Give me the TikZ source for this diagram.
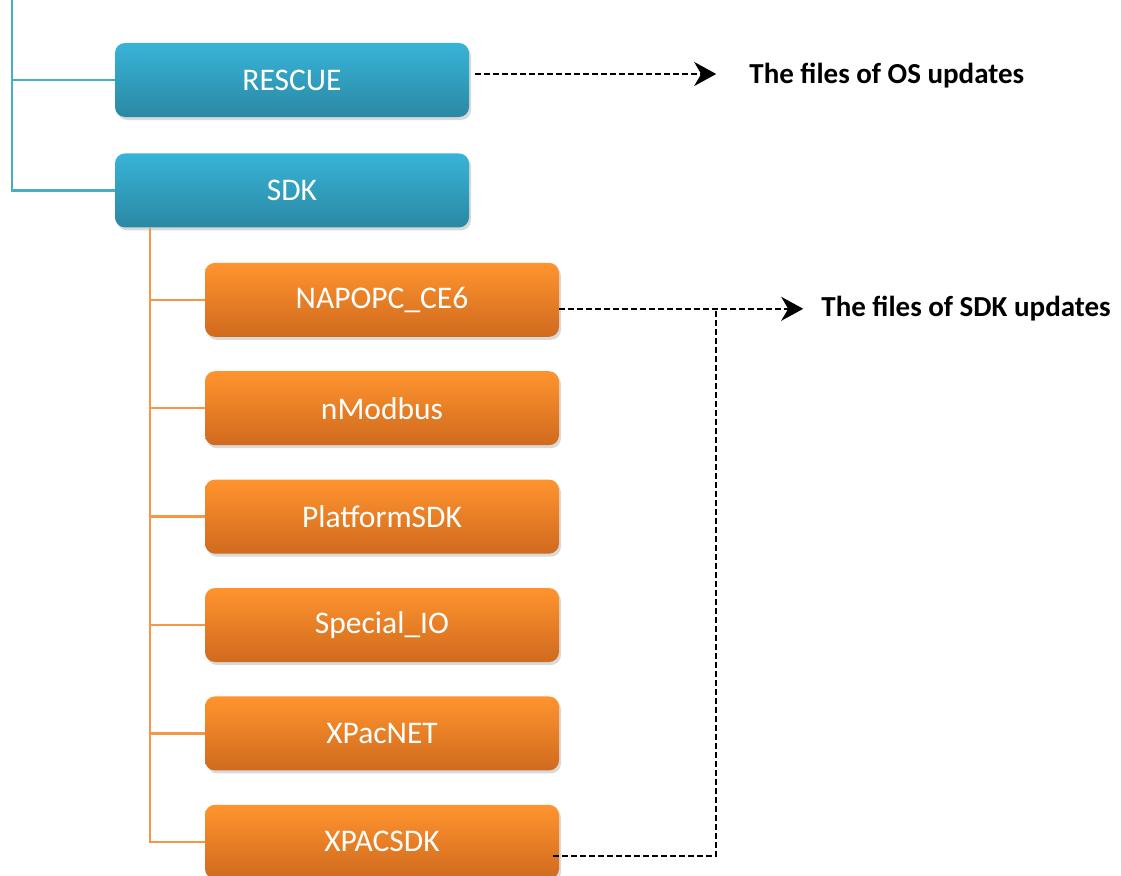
\documentclass[tikz,border=0pt]{standalone}
\usepackage{fontspec}
\setmainfont{Carlito}
\usepackage{xcolor}
\usepackage{tikz}
\usetikzlibrary{arrows.meta, positioning, calc, shadows}
\definecolor{bluetop}{HTML}{38B4D8}
\definecolor{bluebottom}{HTML}{2A88A3}
\definecolor{blueline}{HTML}{4BACC6}
\definecolor{orangetop}{HTML}{FF942E}
\definecolor{orangebottom}{HTML}{D06A1E}
\definecolor{orangeline}{HTML}{F79646}

\begin{document}
\begin{tikzpicture}[
    x=1pt, y=-1pt,
    node distance=34pt,
    folder/.style={rectangle, rounded corners=10pt, minimum width=354pt,
                minimum height=74pt, top color=#1top, bottom color=#1bottom,
                draw=none, text=white, font=\fontsize{31.5}{36}\selectfont,
                drop shadow={opacity=0.3, shadow xshift=2pt, shadow yshift=-3pt}},
    tree/.style={line width=2.4pt, color=#1},
    dasharrow/.style={-{Stealth[length=22pt, width=24pt, inset=7pt]}, line width=2.4pt, dash pattern=on 6pt off 3pt},
    dashline/.style={line width=2.4pt, dash pattern=on 6pt off 3pt},
    note/.style={font=\fontsize{29}{34}\selectfont\bfseries, inner sep=0pt, anchor=west}
]
\useasboundingbox (0,0) rectangle (1121,875);

% Top level folders
\node[folder=blue] (rescue) at (292,80) {RESCUE};
\node[folder=blue, below=36pt of rescue] (sdk) {SDK};

% SDK sub folders
\node[folder=orange, anchor=north west] (napopc) at ([xshift=90pt, yshift=-35pt]sdk.south west) {NAPOPC\_CE6};
\node[folder=orange, below=of napopc] (nmodbus) {nModbus};
\node[folder=orange, below=of nmodbus] (platform) {PlatformSDK};
\node[folder=orange, below=of platform] (specialio) {Special\_IO};
\node[folder=orange, below=of specialio] (xpacnet) {XPacNET};
\node[folder=orange, below=of xpacnet] (xpacsdk) {XPACSDK};

% Notes
\node[note, right=280pt of rescue, yshift=4pt] (osnote) {The files of OS updates};
\node[note, right=262pt of napopc, yshift=-9pt] (sdknote) {The files of SDK updates};

% Tree lines
\coordinate (root) at (12,0);
\coordinate (sdkroot) at ([xshift=35pt]sdk.south west);
\draw[tree=blueline] (root) |- (sdk.west);
\draw[tree=blueline] (root |- rescue.west) -- (rescue.west);

\draw[tree=orangeline] (sdkroot) |- (xpacsdk.west);
\draw[tree=orangeline] (sdkroot |- napopc.west) -- (napopc.west);
\draw[tree=orangeline] (sdkroot |- nmodbus.west) -- (nmodbus.west);
\draw[tree=orangeline] (sdkroot |- platform.west) -- (platform.west);
\draw[tree=orangeline] (sdkroot |- specialio.west) -- (specialio.west);
\draw[tree=orangeline] (sdkroot |- xpacnet.west) -- (xpacnet.west);

% Update arrows
\draw[dasharrow] ([xshift=6pt, yshift=6pt]rescue.east) -- ([xshift=-33pt, yshift=2pt]osnote.west);
\coordinate (merge) at ([xshift=157pt, yshift=-9pt]napopc.east);
\draw[dasharrow] ([yshift=-9pt]napopc.east) -- ([xshift=-18pt]sdknote.west);
\draw[dashline] ([xshift=-6pt, yshift=-14pt]xpacsdk.east) -| (merge);

\end{tikzpicture}
\end{document}
